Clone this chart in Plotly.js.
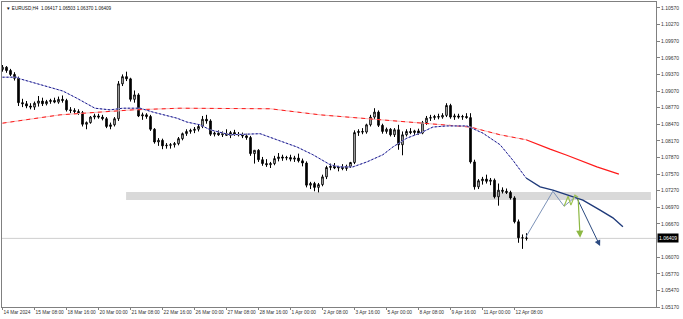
<!DOCTYPE html>
<html><head><meta charset="utf-8">
<script src="https://cdn.plot.ly/plotly-3.0.1.min.js"></script>
<style>html,body{margin:0;padding:0;background:#fff}#chart{width:683px;height:319px}</style>
</head><body><div id="chart"></div>
<script>
// EURUSD H4 bars, 14 Mar 2024 00:00 .. 12 Apr 2024 20:00 (bar index = position)
const barOpen = [1.0946,1.0950,1.0944,1.0937,1.0930,1.0886,1.0884,1.0880,1.0878,1.0885,1.0889,1.0884,
1.0888,1.0890,1.0887,1.0892,1.0890,1.0873,1.0872,1.0870,1.0868,1.0847,1.0850,1.0860,
1.0862,1.0860,1.0857,1.0843,1.0846,1.0857,1.0920,1.0933,1.0929,1.0892,1.0900,1.0862,
1.0864,1.0861,1.0838,1.0815,1.0818,1.0808,1.0809,1.0810,1.0812,1.0821,1.0830,1.0834,
1.0836,1.0838,1.0843,1.0856,1.0853,1.0829,1.0831,1.0828,1.0830,1.0827,1.0832,1.0829,
1.0828,1.0826,1.0823,1.0794,1.0800,1.0783,1.0776,1.0774,1.0776,1.0785,1.0788,1.0786,
1.0787,1.0784,1.0786,1.0781,1.0777,1.0737,1.0740,1.0733,1.0738,1.0752,1.0769,1.0771,
1.0768,1.0770,1.0767,1.0771,1.0778,1.0832,1.0834,1.0833,1.0846,1.0860,1.0869,1.0845,
1.0834,1.0838,1.0828,1.0837,1.0810,1.0828,1.0834,1.0832,1.0835,1.0831,1.0850,1.0858,
1.0859,1.0861,1.0860,1.0863,1.0881,1.0860,1.0862,1.0860,1.0861,1.0859,1.0779,1.0734,
1.0745,1.0748,1.0744,1.0746,1.0716,1.0728,1.0726,1.0724,1.0714,1.0671,1.0642,1.06417];
const barHigh = [1.0954,1.0952,1.0947,1.0941,1.0933,1.0893,1.0889,1.0885,1.0888,1.0898,1.0895,1.0891,
1.0893,1.0895,1.0897,1.0899,1.0893,1.0878,1.0876,1.0874,1.0871,1.0852,1.0862,1.0866,
1.0866,1.0864,1.0860,1.0850,1.0860,1.0925,1.0937,1.0942,1.0931,1.0908,1.0903,1.0868,
1.0867,1.0864,1.0840,1.0822,1.0821,1.0813,1.0813,1.0815,1.0824,1.0832,1.0838,1.0839,
1.0842,1.0846,1.0862,1.0864,1.0856,1.0834,1.0836,1.0834,1.0838,1.0835,1.0837,1.0833,
1.0832,1.0830,1.0826,1.0800,1.0802,1.0788,1.0784,1.0779,1.0790,1.0795,1.0792,1.0790,
1.0792,1.0790,1.0794,1.0785,1.0780,1.0743,1.0743,1.0741,1.0756,1.0772,1.0776,1.0777,
1.0772,1.0775,1.0774,1.0779,1.0836,1.0838,1.0840,1.0848,1.0864,1.0876,1.0872,1.0848,
1.0841,1.0840,1.0840,1.0846,1.0834,1.0838,1.0840,1.0837,1.0839,1.0853,1.0862,1.0864,
1.0864,1.0866,1.0867,1.0885,1.0884,1.0866,1.0866,1.0864,1.0867,1.0867,1.0783,1.0748,
1.0752,1.0756,1.0750,1.0749,1.0740,1.0733,1.0731,1.0727,1.0717,1.0675,1.0648,1.06503];
const barLow = [1.0942,1.0940,1.0934,1.0926,1.0880,1.0878,1.0876,1.0874,1.0873,1.0879,1.0880,1.0881,
1.0884,1.0885,1.0884,1.0886,1.0870,1.0867,1.0866,1.0864,1.0843,1.0838,1.0848,1.0856,
1.0857,1.0854,1.0840,1.0838,1.0843,1.0853,1.0916,1.0925,1.0888,1.0886,1.0860,1.0855,
1.0857,1.0835,1.0812,1.0808,1.0802,1.0803,1.0803,1.0805,1.0809,1.0818,1.0826,1.0830,
1.0831,1.0834,1.0840,1.0848,1.0826,1.0825,1.0826,1.0824,1.0826,1.0822,1.0826,1.0825,
1.0822,1.0819,1.0790,1.0776,1.0779,1.0772,1.0770,1.0768,1.0773,1.0780,1.0781,1.0782,
1.0780,1.0779,1.0778,1.0771,1.0733,1.0730,1.0726,1.0724,1.0735,1.0748,1.0764,1.0766,
1.0762,1.0764,1.0763,1.0768,1.0775,1.0826,1.0829,1.0830,1.0843,1.0856,1.0842,1.0830,
1.0830,1.0825,1.0824,1.0801,1.0791,1.0825,1.0829,1.0827,1.0828,1.0829,1.0846,1.0853,
1.0855,1.0856,1.0857,1.0860,1.0857,1.0855,1.0857,1.0855,1.0857,1.0776,1.0729,1.0730,
1.0738,1.0740,1.0737,1.0713,1.0700,1.0722,1.0721,1.0711,1.0668,1.0633,1.0622,1.06370];
const barClose = [1.0950,1.0944,1.0937,1.0930,1.0886,1.0884,1.0880,1.0878,1.0885,1.0889,1.0884,1.0888,
1.0890,1.0887,1.0892,1.0890,1.0873,1.0872,1.0870,1.0868,1.0847,1.0850,1.0860,1.0862,
1.0860,1.0857,1.0843,1.0846,1.0857,1.0920,1.0933,1.0929,1.0892,1.0900,1.0862,1.0864,
1.0861,1.0838,1.0815,1.0818,1.0808,1.0809,1.0810,1.0812,1.0821,1.0830,1.0834,1.0836,
1.0838,1.0843,1.0856,1.0853,1.0829,1.0831,1.0828,1.0830,1.0827,1.0832,1.0829,1.0828,
1.0826,1.0823,1.0794,1.0800,1.0783,1.0776,1.0774,1.0776,1.0785,1.0788,1.0786,1.0787,
1.0784,1.0786,1.0781,1.0777,1.0737,1.0740,1.0733,1.0738,1.0752,1.0769,1.0771,1.0768,
1.0770,1.0767,1.0771,1.0778,1.0832,1.0834,1.0833,1.0846,1.0860,1.0869,1.0845,1.0834,
1.0838,1.0828,1.0837,1.0810,1.0828,1.0834,1.0832,1.0835,1.0831,1.0850,1.0858,1.0859,
1.0861,1.0860,1.0863,1.0881,1.0860,1.0862,1.0860,1.0861,1.0859,1.0779,1.0734,1.0745,
1.0748,1.0744,1.0746,1.0716,1.0728,1.0726,1.0724,1.0714,1.0671,1.0642,1.06417,1.06409];

// moving averages (bar position, price)
const maBlueBars = [0,3.6,4.4,11.9,15.1,18.6,21.1,23.1,26.9,30.1,34.4,37.6,43.6,46.1,49.4,51.9,56.9,64.4,68.6,73.6,77.6,81.9,84.4,87.6,91.1,95.1,97.6,101.1,104.4,107.6,111.1,116.1,120.1,124.4,127.6,129.9,130.9,134.4,137.6,141.9,145.1,149.4,152.6,155.1];
const maBlueVals = [1.0932,1.0932,1.0929,1.0914,1.0907,1.0894,1.0884,1.0876,1.0873,1.0876,1.0876,1.0869,1.0858,1.0851,1.0846,1.0837,1.0828,1.0830,1.0819,1.0806,1.0792,1.0774,1.0770,1.0770,1.0779,1.0792,1.0806,1.0822,1.0831,1.0842,1.0844,1.0844,1.0831,1.0810,1.0782,1.0759,1.0750,1.0734,1.0728,1.0717,1.0710,1.0692,1.0678,1.0662];
const maRedBars = [0,14.4,24.4,32.6,44.4,56.9,66.9,79.4,89.4,100.1,106.1,112.6,116.9,124.4,130.9,133.6,136.9,141.1,144.4,148.6,154.1];
const maRedVals = [1.0849,1.0864,1.0869,1.0873,1.0876,1.0876,1.0875,1.0864,1.0858,1.0851,1.0848,1.0844,1.0842,1.0828,1.0819,1.0811,1.0802,1.0791,1.0782,1.0770,1.0757];

// support zone and current price
const zoneFromBar = 30.9, zoneToBar = 162.1, zoneLow = 1.07102, zoneHigh = 1.07247;
const lastPrice = 1.06409;
const titleText = "\u25BC EURUSD,H4  1.06417 1.06503 1.06370 1.06409";

// hand-drawn projection paths
const projBlueBars = [130.9,137.6,140.4,143.4,149.4];
const projBlueVals = [1.0644,1.0726,1.0699,1.0717,1.0627];
const projGreenBars = [140.4,141.4,142.1,143.1,143.9,144.4];
const projGreenVals = [1.0699,1.0717,1.0701,1.0719,1.0715,1.0642];

// axis ticks
const xTickBars = [0,8,16,24,32,40,48,56,64,72,80,88,96,104,112,120,128];
const xTickLabels = ["14 Mar 2024","15 Mar 08:00","18 Mar 16:00","20 Mar 00:00","21 Mar 08:00","22 Mar 16:00","26 Mar 00:00","27 Mar 08:00","28 Mar 16:00","1 Apr 00:00","2 Apr 08:00","3 Apr 16:00","5 Apr 00:00","8 Apr 08:00","9 Apr 16:00","11 Apr 00:00","12 Apr 08:00"];
const yTickVals = [1.05170,1.05470,1.05770,1.06070,1.06670,1.06970,1.07270,1.07570,1.07870,1.08170,1.08470,1.08770,1.09070,1.09370,1.09670,1.09970,1.10270,1.10570];
const yTickLabels = yTickVals.map(v => v.toFixed(5));

const barIdx = barOpen.map((_, i) => i);
const F = "Liberation Sans, Arial, sans-serif";

const splitAt = 130.9;
const hist = (b, v) => ({x: b.filter(x => x <= splitAt), y: v.filter((_, i) => b[i] <= splitAt)});
const fut = (b, v) => ({x: b.filter(x => x >= splitAt), y: v.filter((_, i) => b[i] >= splitAt)});
const bh = hist(maBlueBars, maBlueVals), bf = fut(maBlueBars, maBlueVals);
const rh = hist(maRedBars, maRedVals), rf = fut(maRedBars, maRedVals);

const traces = [
  {type:'candlestick', x:barIdx, open:barOpen, high:barHigh, low:barLow, close:barClose,
   increasing:{line:{color:'#000', width:1}, fillcolor:'#ffffff'},
   decreasing:{line:{color:'#000', width:1}, fillcolor:'#000000'},
   whiskerwidth:0, hoverinfo:'skip', showlegend:false},
  {type:'scatter', mode:'lines', x:rh.x, y:rh.y, line:{color:'#f6b8b8', width:1}, hoverinfo:'skip', showlegend:false},
  {type:'scatter', mode:'lines', x:rh.x, y:rh.y, line:{color:'#ff1a1a', width:1, dash:'4px,4px'}, hoverinfo:'skip', showlegend:false},
  {type:'scatter', mode:'lines', x:rf.x, y:rf.y, line:{color:'#ff1a1a', width:1.2}, hoverinfo:'skip', showlegend:false},
  {type:'scatter', mode:'lines', x:bh.x, y:bh.y, line:{color:'#a8a8dc', width:1}, hoverinfo:'skip', showlegend:false},
  {type:'scatter', mode:'lines', x:bh.x, y:bh.y, line:{color:'#1c1c8c', width:1, dash:'2px,2px'}, hoverinfo:'skip', showlegend:false},
  {type:'scatter', mode:'lines', x:bf.x, y:bf.y, line:{color:'#1f3a7a', width:1.4}, hoverinfo:'skip', showlegend:false},
  {type:'scatter', mode:'lines', x:projBlueBars.slice(0,-1), y:projBlueVals.slice(0,-1), line:{color:'#7d93b8', width:1}, hoverinfo:'skip', showlegend:false},
  {type:'scatter', mode:'lines', x:projGreenBars.slice(0,-1), y:projGreenVals.slice(0,-1), line:{color:'#9cc24f', width:1.2}, hoverinfo:'skip', showlegend:false}
];

const nB = projBlueBars.length, nG = projGreenBars.length;
const layout = {
  width:683, height:319,
  margin:{l:2, r:27, t:2, b:12, pad:0},
  paper_bgcolor:'#ffffff', plot_bgcolor:'#ffffff',
  boxgap:0.45,
  xaxis:{range:[-0.125, 163.375], showgrid:false, zeroline:false, showline:true, mirror:true,
    linecolor:'#808080', linewidth:1, ticks:'outside', ticklen:2, tickcolor:'#808080',
    tickvals:xTickBars, ticktext:xTickLabels, ticklabelposition:'outside right', tickangle:0,
    tickfont:{family:F, size:4.8, color:'#333'}, rangeslider:{visible:false}, fixedrange:true},
  yaxis:{range:[1.05170, 1.10678], side:'right', showgrid:false, zeroline:false, showline:true, mirror:true,
    linecolor:'#808080', linewidth:1, ticks:'outside', ticklen:3, tickcolor:'#808080',
    tickvals:yTickVals, ticktext:yTickLabels, tickfont:{family:F, size:5, color:'#333'}, fixedrange:true},
  shapes:[
    {type:'rect', layer:'below', xref:'x', yref:'y', x0:zoneFromBar, x1:zoneToBar, y0:zoneLow, y1:zoneHigh,
     fillcolor:'#d9d9d9', line:{width:0}},
    {type:'line', layer:'below', xref:'paper', yref:'y', x0:0, x1:1, y0:lastPrice, y1:lastPrice,
     line:{color:'#cfcfcf', width:1}}
  ],
  annotations:[
    {xref:'paper', yref:'paper', x:0, y:1, xanchor:'left', yanchor:'top', xshift:2, yshift:-2,
     text:titleText, showarrow:false, font:{family:F, size:4.6, color:'#111'}},
    {xref:'paper', yref:'y', x:1, y:lastPrice, xanchor:'left', yanchor:'middle', xshift:1,
     text:lastPrice.toFixed(5), showarrow:false, bgcolor:'#000', borderpad:1,
     font:{family:F, size:5, color:'#fff'}},
    {xref:'x', yref:'y', axref:'x', ayref:'y', x:projBlueBars[nB-1], y:projBlueVals[nB-1],
     ax:projBlueBars[nB-2], ay:projBlueVals[nB-2], showarrow:true, arrowhead:2, arrowsize:1.2, arrowwidth:1,
     arrowcolor:'#2b4a80', text:''},
    {xref:'x', yref:'y', axref:'x', ayref:'y', x:projGreenBars[nG-1], y:projGreenVals[nG-1],
     ax:projGreenBars[nG-2], ay:projGreenVals[nG-2], showarrow:true, arrowhead:2, arrowsize:1.2, arrowwidth:1.2,
     arrowcolor:'#8db844', text:''}
  ]
};
Plotly.newPlot('chart', traces, layout, {staticPlot:true, displayModeBar:false});
</script></body></html>
